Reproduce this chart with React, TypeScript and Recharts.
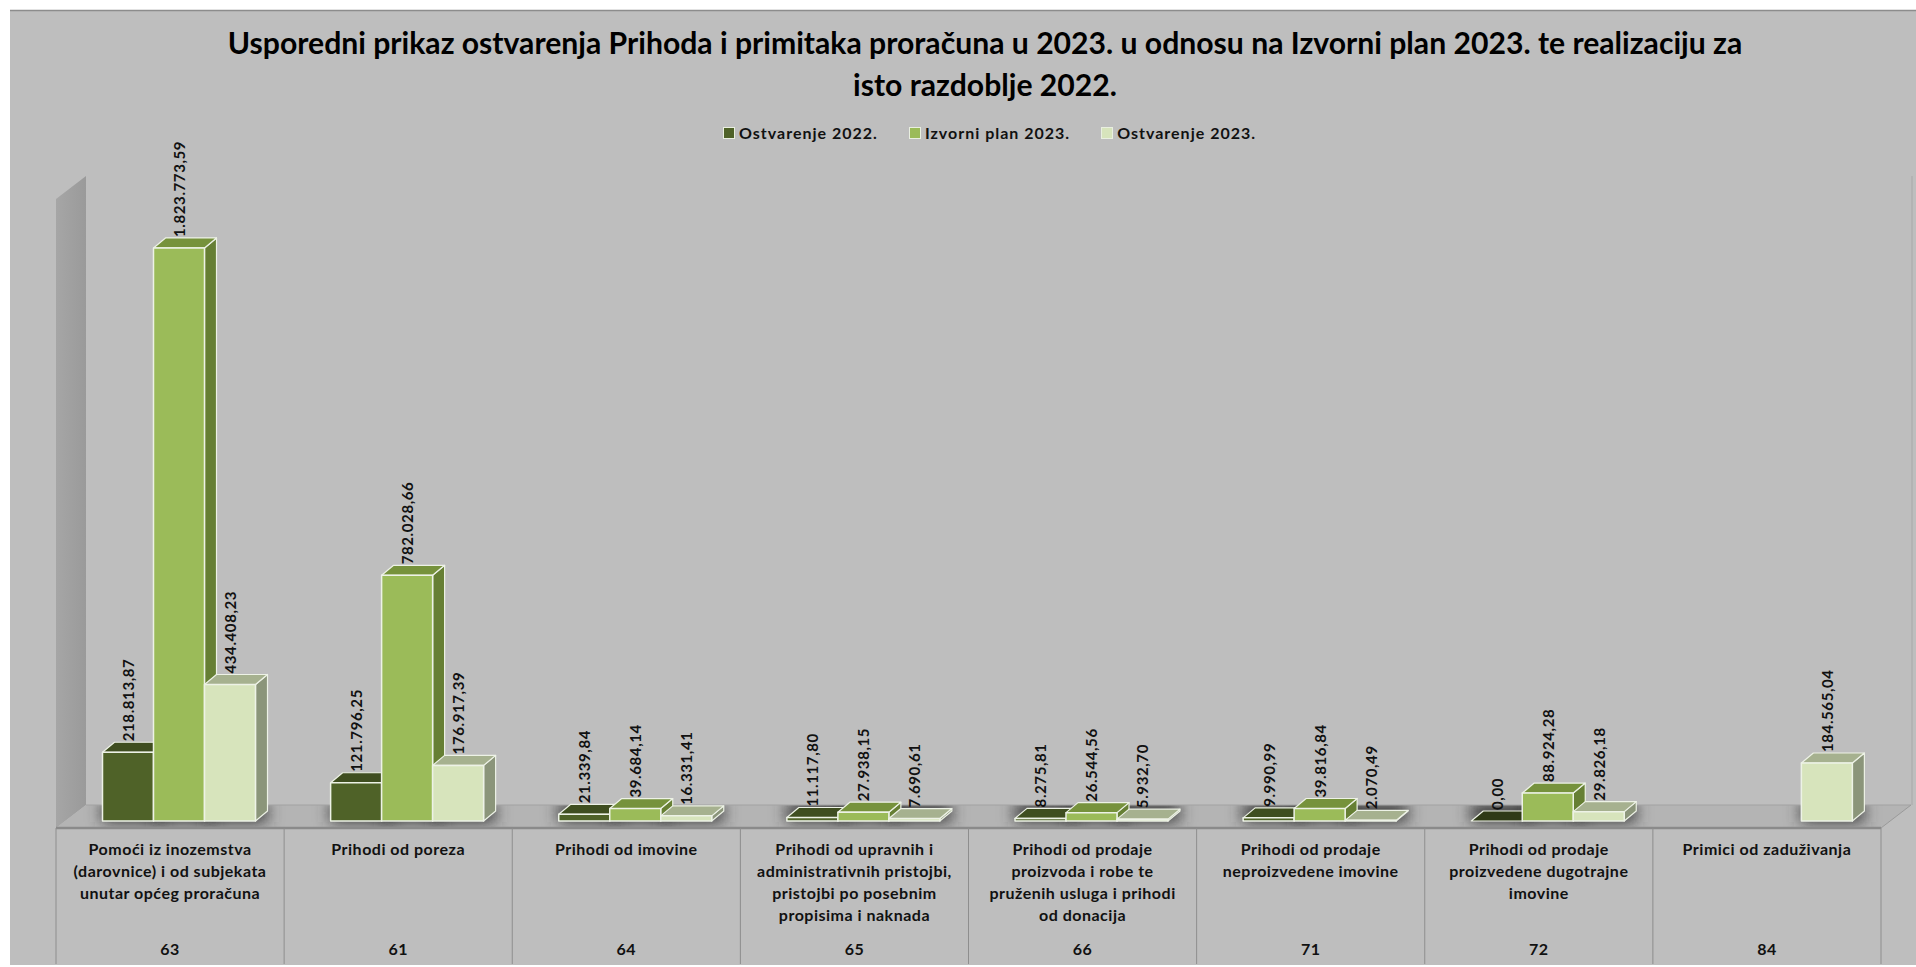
import React from 'react';
import { BarChart, Bar, XAxis, YAxis, Legend, LabelList } from 'recharts';

const categories = [
  'Pomoći iz inozemstva\n(darovnice) i od subjekata\nunutar općeg proračuna',
  'Prihodi od poreza',
  'Prihodi od imovine',
  'Prihodi od upravnih i\nadministrativnih pristojbi,\npristojbi po posebnim\npropisima i naknada',
  'Prihodi od prodaje\nproizvoda i robe te\npruženih usluga i prihodi\nod donacija',
  'Prihodi od prodaje\nneproizvedene imovine',
  'Prihodi od prodaje\nproizvedene dugotrajne\nimovine',
  'Primici od zaduživanja',
];
const codes = ['63', '61', '64', '65', '66', '71', '72', '84'];
const ostvarenje2022 = [218813.87, 121796.25, 21339.84, 11117.8, 8275.81, 9990.99, 0, null];
const izvorniPlan2023 = [1823773.59, 782028.66, 39684.14, 27938.15, 26544.56, 39816.84, 88924.28, null];
const ostvarenje2023 = [434408.23, 176917.39, 16331.41, 7690.61, 5932.7, 2070.49, 29826.18, 184565.04];

const chartData = categories.map((name, i) => ({
  name,
  code: codes[i],
  o22: ostvarenje2022[i],
  p23: izvorniPlan2023[i],
  o23: ostvarenje2023[i],
}));

const FONT = 'Lato, sans-serif';
const W = 1916;
const H = 967;
const LEFT = 56;
const RIGHT = 1881;
const BASE = 821; // where the bars stand
const TOP = 192.6; // y of the domain maximum
const SHIFT = 8.5; // bars sit a little right of the band centre
const DX = 12;
const DY = 10;
const BAR_W = 51;
const BAND = (RIGHT - LEFT) / categories.length;

const series = [
  { key: 'o22', label: 'Ostvarenje 2022.', front: '#4f6228', top: '#3f4e20', side: '#3f4e20' },
  { key: 'p23', label: 'Izvorni plan 2023.', front: '#9bbb59', top: '#76923c', side: '#667f34' },
  { key: 'o23', label: 'Ostvarenje 2023.', front: '#d7e4bc', top: '#a6b18f', side: '#8b957a' },
];

const formatValue = (v: number) => {
  const [int, dec] = v.toFixed(2).split('.');
  return int.replace(/\B(?=(\d{3})+$)/g, '.') + ',' + dec;
};

const makeCuboid = (s: (typeof series)[number]) => (props: any) => {
  if (props.payload[s.key] == null) return null;
  const x = props.x + SHIFT;
  const w = props.width;
  const y = props.y;
  const b = y + props.height;
  const edge = '#edf2e6';
  const topColor = props.payload[s.key] === 0 ? '#2f3a17' : s.top;
  return (
    <g strokeLinejoin="round">
      <polygon
        points={`${x + w},${y} ${x + w + DX},${y - DY} ${x + w + DX},${b - DY} ${x + w},${b}`}
        fill={s.side}
        stroke={edge}
        strokeWidth={1.2}
      />
      <polygon
        points={`${x},${y} ${x + DX},${y - DY} ${x + w + DX},${y - DY} ${x + w},${y}`}
        fill={topColor}
        stroke={edge}
        strokeWidth={1.2}
      />
      <rect x={x} y={y} width={w} height={props.height} fill={s.front} stroke={edge} strokeWidth={1.5} />
    </g>
  );
};

const makeLabel = () => (props: any) => {
  if (props.value == null || Number.isNaN(props.y)) return null;
  const cx = props.x + SHIFT + props.width / 2;
  const by = props.y - DY - 1;
  return (
    <text
      x={cx}
      y={by}
      transform={`rotate(-90 ${cx} ${by})`}
      fontFamily={FONT}
      fontWeight={700}
      fontSize={15}
      letterSpacing={0.6}
      fill="#111"
      dominantBaseline="central"
    >
      {formatValue(Number(props.value))}
    </text>
  );
};

const CategoryTick = (props: any) => {
  const lines = String(props.payload.value).split('\n');
  return (
    <g fontFamily={FONT} fontWeight={700} fontSize={16} letterSpacing={0.5} fill="#111" textAnchor="middle">
      {lines.map((line, i) => (
        <text key={i} x={props.x} y={855 + i * 22}>
          {line}
        </text>
      ))}
      <text x={props.x} y={955}>
        {codes[props.index]}
      </text>
    </g>
  );
};

const LegendRow = () => (
  <div
    style={{
      display: 'flex',
      fontFamily: FONT,
      fontWeight: 700,
      fontSize: 16,
      letterSpacing: 1,
      color: '#111',
      lineHeight: '22px',
      whiteSpace: 'nowrap',
    }}
  >
    {series.map((s, i) => (
      <div key={s.key} style={{ display: 'flex', alignItems: 'center', marginRight: i < 2 ? 31 : 0 }}>
        <span
          style={{
            width: 10,
            height: 10,
            background: s.front,
            border: '1px solid #e9efe0',
            marginRight: 4,
            display: 'inline-block',
          }}
        />
        {s.label}
      </div>
    ))}
  </div>
);

// wall, floor and separators behind the bars
const Backdrop = () => (
  <svg width={W} height={H} style={{ position: 'absolute', left: 0, top: 0 }}>
    <defs>
      <filter id="soft" x="-40%" y="-80%" width="180%" height="260%">
        <feGaussianBlur stdDeviation="8" />
      </filter>
      <clipPath id="floorClip">
        <polygon points={`${LEFT},828 ${LEFT + 30},805 ${RIGHT + 30},805 ${RIGHT},828`} />
      </clipPath>
      <linearGradient id="wall" x1="0" x2="1" y1="0" y2="0">
        <stop offset="0" stopColor="#a6a6a6" />
        <stop offset="1" stopColor="#9a9a9a" />
      </linearGradient>
    </defs>
    <rect x={10} y={10} width={W - 10} height={H - 12} fill="#bebebe" />
    <line x1={10} y1={10.5} x2={W} y2={10.5} stroke="#8c8c8c" strokeWidth={1.5} />
    <polygon points={`${LEFT},828 ${LEFT},199 ${LEFT + 30},176 ${LEFT + 30},805`} fill="url(#wall)" />
    <line x1={RIGHT + 31} y1={176} x2={RIGHT + 31} y2={805} stroke="#b3b3b3" strokeWidth={2} />
    <polygon points={`${LEFT},828 ${LEFT + 30},805 ${RIGHT + 30},805 ${RIGHT},828`} fill="#b4b4b4" />
    <g clipPath="url(#floorClip)">
      {categories.map((_, i) =>
        series.map((s, j) =>
          chartData[i][s.key] == null ? null : (
            <rect
              key={s.key + i}
              x={LEFT + BAND * i + BAND / 2 - BAR_W * 1.5 + SHIFT + j * BAR_W}
              y={804}
              width={BAR_W + DX}
              height={18}
              fill="#333333"
              filter="url(#soft)"
            />
          ),
        ),
      )}
    </g>
    <line x1={LEFT} y1={828} x2={RIGHT} y2={828} stroke="#8a8a8a" strokeWidth={2.5} />
    <line x1={LEFT + 30} y1={805} x2={RIGHT + 30} y2={805} stroke="#a2a2a2" strokeWidth={1} />
    <line x1={RIGHT} y1={828} x2={RIGHT + 30} y2={805} stroke="#9a9a9a" strokeWidth={1} />
    {categories.concat('').map((_, i) => (
      <line
        key={i}
        x1={LEFT + BAND * i}
        y1={828}
        x2={LEFT + BAND * i}
        y2={964}
        stroke="#8e8e8e"
        strokeWidth={1}
      />
    ))}
    <g fontFamily={FONT} fontWeight={700} fontSize={30.15} fill="#000" textAnchor="middle">
      <text x={985} y={54}>
        Usporedni prikaz ostvarenja Prihoda i primitaka proračuna u 2023. u odnosu na Izvorni plan 2023. te realizaciju za
      </text>
      <text x={985} y={96}>
        isto razdoblje 2022.
      </text>
    </g>
  </svg>
);

export default function App() {
  return (
    <div style={{ position: 'absolute', left: 0, top: 0, width: W, height: H, overflow: 'hidden' }}>
      <Backdrop />
      <div style={{ position: 'absolute', left: 0, top: 0 }}>
        <BarChart
          width={W}
          height={H}
          data={chartData}
          margin={{ top: TOP, left: LEFT, right: W - RIGHT, bottom: 6 }}
          barSize={BAR_W}
          barGap={0}
        >
          <XAxis
            dataKey="name"
            height={H - BASE - 6}
            interval={0}
            axisLine={false}
            tickLine={false}
            tick={<CategoryTick />}
          />
          <YAxis hide domain={[0, 2000000]} />
          <Legend
            content={<LegendRow />}
            wrapperStyle={{ position: 'absolute', left: 723, top: 122, width: 560, height: 0 }}
          />
          {series.map((s) => (
            <Bar key={s.key} dataKey={s.key} isAnimationActive={false} shape={makeCuboid(s)}>
              <LabelList dataKey={s.key} content={makeLabel()} />
            </Bar>
          ))}
        </BarChart>
      </div>
    </div>
  );
}
